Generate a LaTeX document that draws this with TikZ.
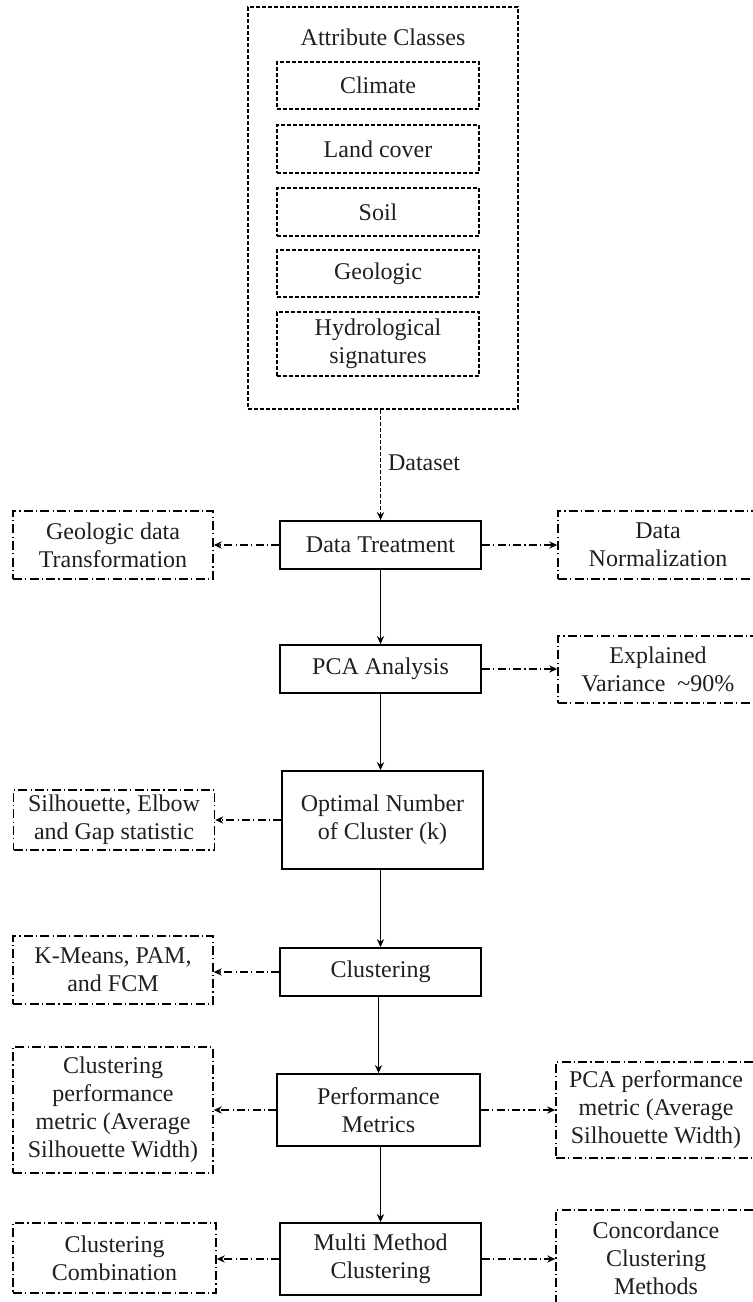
\documentclass[tikz,border=0pt]{standalone}
\usepackage{fontspec}
\setmainfont{Liberation Serif}
\usetikzlibrary{arrows.meta}
\begin{document}
\begin{tikzpicture}[x=0.5pt,y=-0.5pt,
  every node/.style={font=\fontsize{12}{14}\selectfont, align=center, inner sep=0pt, text=black!88},
  mainbox/.style 2 args={draw, line width=0.9pt, minimum width=#1*0.5pt, minimum height=#2*0.5pt},
  sidebox/.style 2 args={draw, line width=0.75pt, dash pattern=on 4.5pt off 1.6pt on 0.6pt off 1.6pt, minimum width=#1*0.5pt, minimum height=#2*0.5pt},
  attrbox/.style 2 args={draw, line width=0.8pt, dash pattern=on 2pt off 1pt, minimum width=#1*0.5pt, minimum height=#2*0.5pt},
  flow/.style={draw, line width=0.9pt, -{Stealth[length=4pt,width=3.6pt]}},
  dataarrow/.style={draw, line width=0.9pt, dash pattern=on 2pt off 1pt, -{Stealth[length=4pt,width=3.6pt]}},
  sidearrow/.style={draw, line width=0.8pt, dash pattern=on 4pt off 1.6pt on 0.6pt off 1.6pt, -{Stealth[length=4pt,width=3.6pt]}}
]
\useasboundingbox (0,0) rectangle (752,1302);

% attribute classes block
\node[attrbox={270}{402}] (outer) at (383,208) {};
\node (title) at (383,37) {Attribute Classes};
\node[attrbox={202}{47}] (climate) at (378,85.5) {Climate};
\node[attrbox={202}{48}] (land) at (378,149) {Land cover};
\node[attrbox={202}{48}] (soil) at (378,212) {Soil};
\node[attrbox={202}{47}] (geo) at (378,273.5) {Geologic};
\node[attrbox={202}{64}] (hydro) at (378,344) {Hydrological\\signatures};

% main column
\node[mainbox={201}{48}] (dt) at (380.5,545) {Data Treatment};
\node[mainbox={201}{48}] (pca) at (380.5,669) {PCA Analysis};
\node[mainbox={201}{98}] (opt) at (382.5,820) {Optimal Number\\of Cluster (k)};
\node[mainbox={201}{48}] (clu) at (380.5,972) {Clustering};
\node[mainbox={203}{72}] (perf) at (378.5,1110) {Performance\\Metrics};
\node[mainbox={201}{72}] (multi) at (380.5,1259) {Multi Method\\Clustering};

% side boxes
\node[sidebox={200}{68}] (gdt) at (113,545) {Geologic data\\Transformation};
\node[sidebox={200}{68}] (norm) at (658,545) {Data\\Normalization};
\node[sidebox={200}{67}] (expl) at (658,669.5) {Explained\\Variance\ \ \textasciitilde90\%};
\node[sidebox={201}{60}] (sil) at (114,820) {Silhouette, Elbow\\and Gap statistic};
\node[sidebox={200}{68}] (kmeans) at (113,970) {K-Means, PAM,\\and FCM};
\node[sidebox={200}{126}] (cperf) at (113,1110) {Clustering\\performance\\metric (Average\\Silhouette Width)};
\node[sidebox={200}{96}] (pcaperf) at (656,1110) {PCA performance\\metric (Average\\Silhouette Width)};
\node[sidebox={203}{70}] (ccomb) at (114.5,1258) {Clustering\\Combination};
\node[sidebox={200}{96}] (conc) at (656,1258) {Concordance\\Clustering\\Methods};

% dataset connector
\draw[dataarrow] (dt.north |- outer.south) -- (dt.north);
\node (dslabel) at (424,463) {Dataset};

% main flow
\draw[flow] (dt.south) -- (pca.north);
\draw[flow] (pca.south) -- (pca.south |- opt.north);
\draw[flow] (clu.north |- opt.south) -- (clu.north);
\draw[flow] (clu.south -| perf.north) -- (perf.north);
\draw[flow] (perf.south -| multi.north) -- (multi.north);

% side connectors
\draw[sidearrow] (dt.west) -- (gdt.east);
\draw[sidearrow] (dt.east) -- (norm.west);
\draw[sidearrow] (pca.east) -- (pca.east -| expl.west);
\draw[sidearrow] (opt.west) -- (sil.east);
\draw[sidearrow] (clu.west) -- (clu.west -| kmeans.east);
\draw[sidearrow] (perf.west) -- (cperf.east);
\draw[sidearrow] (perf.east) -- (pcaperf.west);
\draw[sidearrow] (multi.west) -- (multi.west -| ccomb.east);
\draw[sidearrow] (multi.east) -- (multi.east -| conc.west);
\end{tikzpicture}
\end{document}
